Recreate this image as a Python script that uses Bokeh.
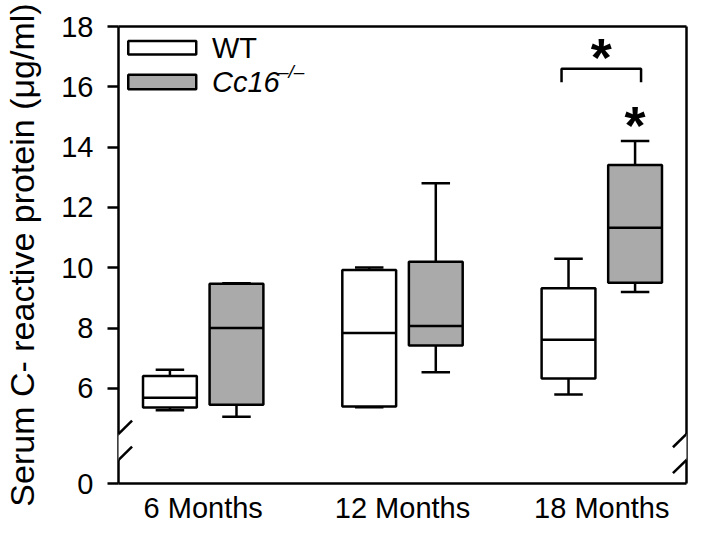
from bokeh.plotting import figure
from bokeh.models import (Range1d, FixedTicker, LinearAxis, CustomJSTickFormatter,
                          BoxAnnotation, Label, Arrow, PolyAnnotation, ColumnDataSource)
from bokeh.core.properties import value
from bokeh.embed import file_html
from bokeh.resources import INLINE

# ---------------- data ----------------
ages = ["6 Months", "12 Months", "18 Months"]
series = ["WT", "Cc16"]

wt_lower = [5.28, 5.38, 5.80]
wt_q1 = [5.37, 5.40, 6.33]
wt_median = [5.69, 7.84, 7.61]
wt_q3 = [6.41, 9.93, 9.32]
wt_upper = [6.62, 10.01, 10.30]

ko_lower = [5.06, 6.54, 9.20]
ko_q1 = [5.46, 7.42, 9.50]
ko_median = [8.00, 8.07, 11.33]
ko_q3 = [9.47, 10.20, 13.41]
ko_upper = [9.49, 12.80, 14.20]

y_tick_values = [6, 8, 10, 12, 14, 16, 18]
zero_label = "0"

# significance marks (18 months)
sig_star_y = [17.25, 15.0]
bracket_y = 16.6

# ---------------- layout constants ----------------
AXIS_ZERO = 2.848      # display position of the "0" tick below the axis break
Y_TOP = 18
X_START, X_END = 0.575, 3.425
OFFSET = 0.167
BOX_W = 0.27
CAP_W = 0.143
FONT = "Liberation Sans"
LW = 2.5
GRAY = "#aaaaaa"

p = figure(width=693, height=526, output_backend="svg", toolbar_location=None,
           x_range=Range1d(X_START, X_END), y_range=Range1d(AXIS_ZERO, Y_TOP),
           min_border_left=116, min_border_right=7, min_border_top=26,
           min_border_bottom=41)
p.grid.visible = False
p.outline_line_color = None
p.background_fill_color = "white"
p.border_fill_color = "white"

# x axis
xa = p.xaxis[0]
xa.ticker = FixedTicker(ticks=[1, 2, 3])
xa.major_label_overrides = {i + 1: a for i, a in enumerate(ages)}
xa.major_tick_line_color = None
xa.minor_tick_line_color = None
xa.axis_line_width = LW
xa.axis_line_color = "black"
xa.major_label_standoff = 2
xa.major_label_text_font = FONT
xa.major_label_text_font_size = "29px"
xa.major_label_text_color = "black"

# y axis
ya = p.yaxis[0]
ya.ticker = FixedTicker(ticks=[AXIS_ZERO] + y_tick_values)
ya.formatter = CustomJSTickFormatter(
    args=dict(zl=zero_label),
    code="return tick < 5 ? zl : tick.toFixed(0);")
ya.major_tick_out = 11
ya.major_tick_in = 0
ya.major_tick_line_width = LW
ya.minor_tick_line_color = None
ya.axis_line_width = LW
ya.axis_line_color = "black"
ya.major_label_standoff = 14
ya.major_label_text_font = FONT
ya.major_label_text_font_size = "29px"
ya.major_label_text_color = "black"
ya.axis_label = "Serum C- reactive protein (\u03bcg/ml)"
ya.axis_label_text_font = FONT
ya.axis_label_text_font_size = "34px"
ya.axis_label_text_font_style = "normal"
ya.axis_label_text_color = "black"
ya.axis_label_standoff = 17

# top & right frame lines
for place in ("above", "right"):
    ax = LinearAxis(ticker=FixedTicker(ticks=[]), axis_line_width=LW,
                    axis_line_color="black", major_tick_line_color=None,
                    minor_tick_line_color=None, major_label_text_font_size="0px")
    p.add_layout(ax, place)

# ---------------- box plots ----------------
def box_source(shift, lower, q1, med, q3, upper):
    xs = [i + 1 + shift for i in range(len(ages))]
    return ColumnDataSource(dict(
        x=xs, xl=[x - BOX_W / 2 for x in xs], xr=[x + BOX_W / 2 for x in xs],
        cl=[x - CAP_W / 2 for x in xs], cr=[x + CAP_W / 2 for x in xs],
        lower=lower, q1=q1, med=med, q3=q3, upper=upper))

for shift, fill, stats in ((-OFFSET, "white", (wt_lower, wt_q1, wt_median, wt_q3, wt_upper)),
                           (OFFSET, GRAY, (ko_lower, ko_q1, ko_median, ko_q3, ko_upper))):
    src = box_source(shift, *stats)
    p.segment(x0="x", y0="q3", x1="x", y1="upper", source=src, line_color="black", line_width=LW)
    p.segment(x0="x", y0="q1", x1="x", y1="lower", source=src, line_color="black", line_width=LW)
    p.vbar(x="x", width=BOX_W, bottom="q1", top="q3", source=src, fill_color=fill,
           line_color="black", line_width=LW)
    p.segment(x0="xl", y0="med", x1="xr", y1="med", source=src, line_color="black", line_width=LW)
    p.segment(x0="cl", y0="upper", x1="cr", y1="upper", source=src, line_color="black", line_width=LW)
    p.segment(x0="cl", y0="lower", x1="cr", y1="lower", source=src, line_color="black", line_width=LW)

# ---------------- significance ----------------
g = 3  # 18 months group position
bl, br = g - OFFSET - 0.035, g + OFFSET + 0.03
p.line(x=[bl, bl, br, br], y=[bracket_y - 0.45, bracket_y, bracket_y, bracket_y - 0.45],
       line_color="black", line_width=LW)
p.text(x=[(bl + br) / 2, g + OFFSET], y=sig_star_y, text=["*", "*"],
       text_font=value(FONT), text_font_style="bold", text_font_size="54px",
       text_align="center", text_baseline="alphabetic", y_offset=8, text_color="black")

# ---------------- legend ----------------
leg_x0, leg_x1, leg_tx = 0.624, 0.965, 1.044
leg_rows = [(17.07, 17.52, "white"), (15.92, 16.40, GRAY)]
for b, t, fc in leg_rows:
    p.add_layout(BoxAnnotation(left=leg_x0, right=leg_x1, bottom=b, top=t,
                               fill_color=fc, fill_alpha=1, line_color="black",
                               line_alpha=1, line_width=LW))
p.add_layout(Label(x=leg_tx, y=17.30, text=series[0], text_baseline="middle",
                   text_font=FONT, text_font_size="29px", text_color="black"))
p.add_layout(Label(x=leg_tx, y=16.16, text="Cc16", text_baseline="middle",
                   text_font=FONT, text_font_size="29px", text_font_style="italic",
                   text_color="black"))
p.add_layout(Label(x=leg_tx, y=16.16, x_offset=66, y_offset=10, text="\u2013/\u2013",
                   text_baseline="middle", text_font=FONT, text_font_size="19px",
                   text_font_style="italic", text_color="black"))

# ---------------- axis breaks ----------------
Y_U, Y_L = 4.49, 3.63
SL_DX, SL_DY = 0.068, 0.44
CV = 0.03
k = SL_DY / SL_DX
for xe in (X_START, X_END):
    p.add_layout(PolyAnnotation(
        xs=[xe - CV, xe + CV, xe + CV, xe - CV],
        ys=[Y_L - CV * k, Y_L + CV * k, Y_U + CV * k, Y_U - CV * k],
        fill_color="white", fill_alpha=1, line_color=None))
    for yc in (Y_U, Y_L):
        p.add_layout(Arrow(end=None, x_start=xe - SL_DX, y_start=yc - SL_DY,
                           x_end=xe + SL_DX, y_end=yc + SL_DY,
                           line_color="black", line_width=LW))

open("out.html", "w").write(file_html(p, INLINE))
